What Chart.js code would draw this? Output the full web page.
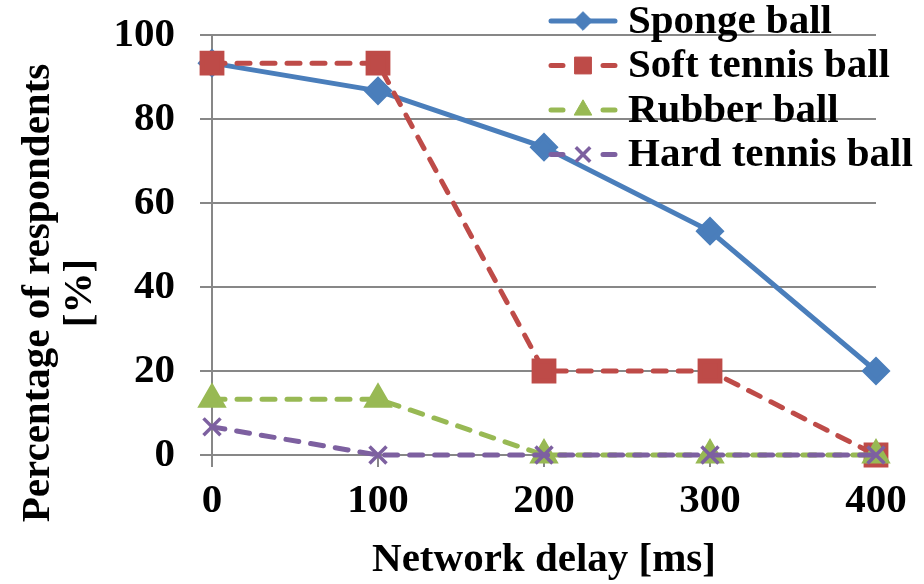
<!DOCTYPE html>
<html>
<head>
<meta charset="utf-8">
<script src="https://cdn.jsdelivr.net/npm/chart.js@4.4.1/dist/chart.umd.min.js"></script>
<style>
  html, body { margin: 0; padding: 0; background: #fff; }
</style>
</head>
<body>
<canvas id="delayChart" width="924" height="584"></canvas>
<script>
const delays = ['0', '100', '200', '300', '400'];
const spongeBall = [93.3, 86.7, 73.3, 53.3, 20];
const softTennisBall = [93.3, 93.3, 20, 20, 0];
const rubberBall = [13.3, 13.3, 0, 0, 0];
const hardTennisBall = [6.7, 0, 0, 0, 0];
const seriesNames = ['Sponge ball', 'Soft tennis ball', 'Rubber ball', 'Hard tennis ball'];
const yTitle = ['Percentage of respondents', '[%]'];
const xTitle = 'Network delay [ms]';

const FONT = '"Liberation Serif", "Times New Roman", serif';
const GRID = '#878787';
const DASH = [13, 12];

// legend sits over the top right corner, like the original
const cornerLegend = {
  id: 'cornerLegend',
  afterDraw(chart) {
    const ctx = chart.ctx;
    ctx.save();
    chart.data.datasets.forEach((ds, i) => {
      const y = 21 + i * 44.5;
      ctx.strokeStyle = ds.borderColor;
      ctx.fillStyle = ds.borderColor;
      ctx.lineWidth = ds.borderWidth;
      ctx.lineCap = 'round';
      ctx.beginPath();
      if (ds.borderDash) {
        ctx.moveTo(551, y); ctx.lineTo(563, y);
        ctx.moveTo(603, y); ctx.lineTo(615, y);
      } else {
        ctx.moveTo(551, y); ctx.lineTo(615, y);
      }
      ctx.stroke();
      ctx.lineCap = 'butt';
      ctx.lineWidth = ds.pointBorderWidth || 1;
      Chart.helpers.drawPoint(ctx, {
        pointStyle: ds.pointStyle,
        radius: ds.pointRadius * 0.85,
        borderWidth: ds.pointBorderWidth || 1
      }, 583, y);
      ctx.fillStyle = '#000';
      ctx.font = 'bold 41px ' + FONT;
      ctx.textBaseline = 'middle';
      ctx.textAlign = 'left';
      ctx.fillText(ds.label, 628, y + 1);
    });
    ctx.restore();
  }
};

// y title is centred a bit lower than the plot, so draw it by hand
const yAxisTitle = {
  id: 'yAxisTitle',
  afterDraw(chart) {
    const ctx = chart.ctx;
    ctx.save();
    ctx.translate(0, 293);
    ctx.rotate(-Math.PI / 2);
    ctx.fillStyle = '#000';
    ctx.font = 'bold 41px ' + FONT;
    ctx.textAlign = 'center';
    ctx.textBaseline = 'middle';
    yTitle.forEach((line, i) => ctx.fillText(line, 0, 38 + i * 42));
    ctx.restore();
  }
};

new Chart(document.getElementById('delayChart').getContext('2d'), {
  type: 'line',
  data: {
    labels: delays,
    datasets: [{
      label: seriesNames[0],
      data: spongeBall,
      borderColor: '#4A7EBB',
      backgroundColor: '#4A7EBB',
      borderWidth: 5,
      pointStyle: 'rectRot',
      pointRadius: 11,
      order: 4
    }, {
      label: seriesNames[1],
      data: softTennisBall,
      borderColor: '#BE4B48',
      backgroundColor: '#BE4B48',
      borderWidth: 5,
      borderDash: DASH,
      borderCapStyle: 'round',
      pointStyle: 'rect',
      pointRadius: 14,
      order: 3
    }, {
      label: seriesNames[2],
      data: rubberBall,
      borderColor: '#98B954',
      backgroundColor: '#98B954',
      borderWidth: 5,
      borderDash: DASH,
      borderCapStyle: 'round',
      pointStyle: 'triangle',
      pointRadius: 12,
      order: 2
    }, {
      label: seriesNames[3],
      data: hardTennisBall,
      borderColor: '#7D60A0',
      backgroundColor: '#7D60A0',
      borderWidth: 5,
      borderDash: DASH,
      borderCapStyle: 'round',
      pointStyle: 'crossRot',
      pointRadius: 12,
      pointBorderWidth: 3.5,
      order: 1
    }]
  },
  options: {
    responsive: false,
    animation: false,
    layout: { padding: { top: 35, right: 48, left: 0, bottom: 0 } },
    datasets: { line: { clip: false, tension: 0 } },
    plugins: {
      legend: { display: false },
      tooltip: { enabled: false }
    },
    scales: {
      x: {
        offset: false,
        afterFit(scale) { scale.height = 129; },
        grid: { drawOnChartArea: false, color: GRID, lineWidth: 2, tickLength: 12 },
        border: { color: GRID, width: 2 },
        ticks: {
          color: '#000',
          padding: 10,
          maxRotation: 0,
          font: { family: FONT, size: 41, weight: 'bold' }
        },
        title: {
          display: true,
          text: xTitle,
          color: '#000',
          padding: { top: 0, bottom: 0 },
          font: { family: FONT, size: 41, weight: 'bold', lineHeight: 1.15 }
        }
      },
      y: {
        min: 0,
        max: 100,
        afterFit(scale) {
          scale.width = 212;
          // plot top is fixed by layout padding, not by the label overhang
          scale.paddingTop = 0;
          scale.paddingBottom = 0;
        },
        grid: { color: GRID, lineWidth: 2, tickLength: 12 },
        border: { color: GRID, width: 2 },
        ticks: {
          stepSize: 20,
          color: '#000',
          padding: 25,
          font: { family: FONT, size: 41, weight: 'bold' }
        }
      }
    }
  },
  plugins: [cornerLegend, yAxisTitle]
});
</script>
</body>
</html>
